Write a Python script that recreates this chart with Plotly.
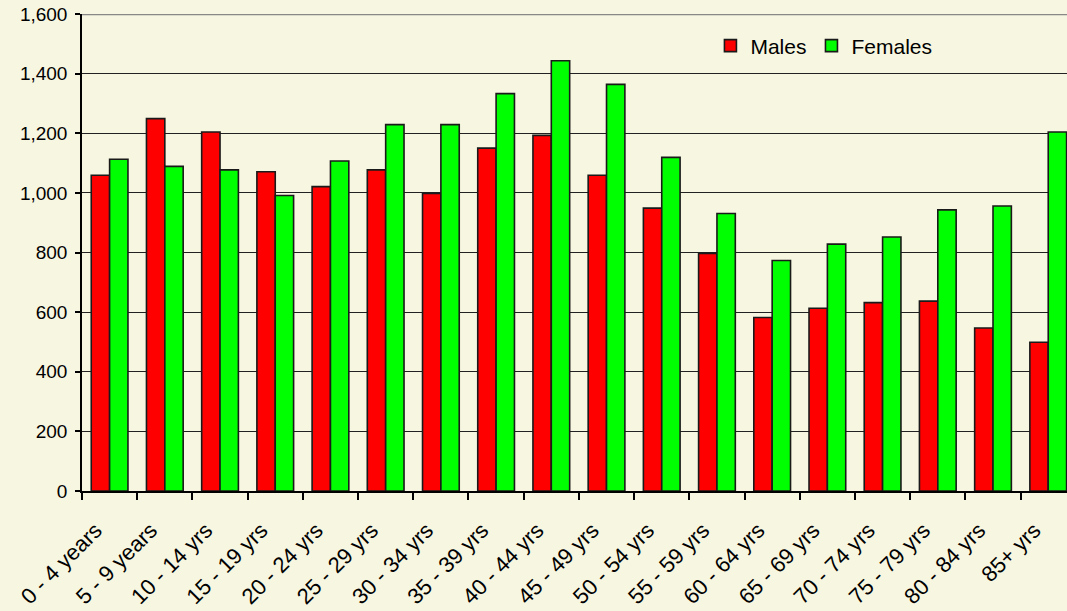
import plotly.graph_objects as go

categories = ["0 - 4 years", "5 - 9 years", "10 - 14 yrs", "15 - 19 yrs", "20 - 24 yrs",
              "25 - 29 yrs", "30 - 34 yrs", "35 - 39 yrs", "40 - 44 yrs", "45 - 49 yrs",
              "50 - 54 yrs", "55 - 59 yrs", "60 - 64 yrs", "65 - 69 yrs", "70 - 74 yrs",
              "75 - 79 yrs", "80 - 84 yrs", "85+ yrs"]
males = [1059, 1249, 1204, 1071, 1021, 1077, 998, 1150, 1193, 1059,
         949, 797, 582, 613, 632, 637, 547, 499]
females = [1113, 1089, 1077, 991, 1107, 1229, 1229, 1333, 1443, 1364,
           1119, 931, 773, 828, 852, 943, 956, 1204]
y_ticks = [0, 200, 400, 600, 800, 1000, 1200, 1400, 1600]

BG = "#F7F6E0"
FONT = "Liberation Sans, Arial, sans-serif"

fig = go.Figure()
fig.add_trace(go.Bar(name="Males", x=categories, y=males,
                     marker=dict(color="#FF0000", line=dict(color="#1a1a1a", width=1.6))))
fig.add_trace(go.Bar(name="Females", x=categories, y=females,
                     marker=dict(color="#00FF00", line=dict(color="#1a1a1a", width=1.6))))

fig.update_layout(
    width=1067, height=611,
    margin=dict(l=82, r=0, t=14, b=120, pad=0),
    paper_bgcolor=BG, plot_bgcolor=BG,
    font=dict(family=FONT, size=19, color="black"),
    barmode="group", bargap=0.335, bargroupgap=0,
    showlegend=True,
    legend=dict(orientation="h", x=0.638, xanchor="left", y=0.933, yanchor="middle",
                bgcolor="rgba(0,0,0,0)", font=dict(size=21), traceorder="normal",
                itemwidth=30),
    shapes=[dict(type="line", xref="paper", x0=0, x1=1, yref="y", y0=1600, y1=1600,
                 line=dict(color="#888888", width=2.5), layer="above")],
)
fig.update_xaxes(
    type="category", range=[-0.5, 17.34], automargin=False,
    showline=True, linecolor="black", linewidth=1.5,
    ticks="outside", tickson="boundaries", ticklen=7, tickcolor="black", tickwidth=1.5,
    tickangle=-45, ticklabelstandoff=16, ticklabelshift=-14, showgrid=False,
    tickfont=dict(size=22),
)
fig.update_yaxes(
    range=[0, 1600], tickvals=y_ticks, tickformat=",", automargin=False,
    showline=True, linecolor="black", linewidth=1.5,
    ticks="outside", ticklen=5, tickcolor="black", tickwidth=1.5,
    showgrid=True, gridcolor="#222222", gridwidth=1.2,
    zeroline=False, ticklabelstandoff=4,
    tickfont=dict(size=19),
)

fig.write_html("out.html", config={"displayModeBar": False},
               post_script="document.body.style.margin='0';document.body.style.overflow='hidden';")
